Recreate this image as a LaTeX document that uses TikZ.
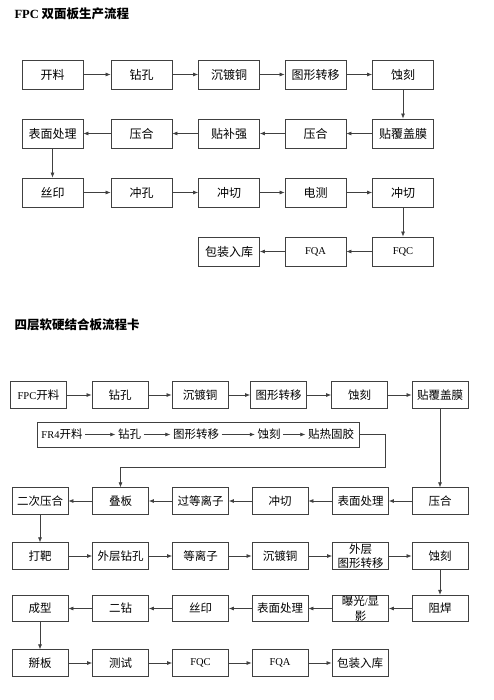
\documentclass[tikz,border=0pt]{standalone}
\usepackage{fontspec}
\usepackage{tikz}
\usetikzlibrary{arrows.meta,positioning,calc}
\newfontfamily\cjk{Noto Sans CJK SC}
\newfontfamily\lat{Liberation Serif}
\newcommand\eng[1]{{\lat\fontsize{10.5}{12}\selectfont #1}}

\begin{document}
\begin{tikzpicture}[x=1pt,y=-1pt,
  flowbox/.style={draw=black!75,line width=0.8pt,minimum width=61pt,minimum height=29pt,
    inner sep=0pt,align=center,font=\fontsize{12}{13}\selectfont\cjk},
  cardbox/.style={flowbox,minimum width=56pt,minimum height=26.5pt,
    font=\fontsize{11.5}{14.5}\selectfont\cjk},
  inlinetext/.style={inner sep=2.5pt,font=\fontsize{11.5}{12.5}\selectfont\cjk},
  flowarrow/.style={draw=black!75,line width=0.7pt,-{Latex[length=5pt,width=4pt]}}]
  \useasboundingbox[fill=white] (0,0) rectangle (494,700); % 画面の大きさ

  % FPC 双面板
  \node[anchor=west,font=\fontsize{12.5}{14}\selectfont\cjk\bfseries] (title1) at (11,14)
    {{\lat\bfseries FPC} 双面板生产流程}; % 表題
  \node[flowbox] (a1) at (52.5,74.5) {开料};
  \node[flowbox] (a2) at (141.5,74.5) {钻孔};
  \node[flowbox] (a3) at (229,74.5) {沉镀铜};
  \node[flowbox] (a4) at (315.5,74.5) {图形转移};
  \node[flowbox] (a5) at (403,74.5) {蚀刻};
  \node[flowbox] (b5) at (403,133.5) {贴覆盖膜};
  \node[flowbox] (b4) at (315.5,133.5) {压合};
  \node[flowbox] (b3) at (229,133.5) {贴补强};
  \node[flowbox] (b2) at (141.5,133.5) {压合};
  \node[flowbox] (b1) at (52.5,133.5) {表面处理};
  \node[flowbox] (c1) at (52.5,192.5) {丝印};
  \node[flowbox] (c2) at (141.5,192.5) {冲孔};
  \node[flowbox] (c3) at (229,192.5) {冲切};
  \node[flowbox] (c4) at (315.5,192.5) {电测};
  \node[flowbox] (c5) at (403,192.5) {冲切};
  \node[flowbox] (d5) at (403,251.5) {\eng{FQC}};
  \node[flowbox] (d4) at (315.5,251.5) {\eng{FQA}};
  \node[flowbox] (d3) at (229,251.5) {包装入库};
  \foreach \i/\j in {a1/a2,a2/a3,a3/a4,a4/a5,a5/b5,b5/b4,b4/b3,b3/b2,b2/b1,b1/c1,
      c1/c2,c2/c3,c3/c4,c4/c5,c5/d5,d5/d4,d4/d3}
    \draw[flowarrow] (\i) -- (\j); % 工程の流れ

  % 四层软硬结合板
  \node[anchor=west,font=\fontsize{12.5}{14}\selectfont\cjk\bfseries] (title2) at (11,325)
    {四层软硬结合板流程卡}; % 表題
  \node[cardbox] (p1) at (38.5,395) {\eng{FPC}开料};
  \node[cardbox] (p2) at (120,395) {钻孔};
  \node[cardbox] (p3) at (200,395) {沉镀铜};
  \node[cardbox] (p4) at (278.5,395) {图形转移};
  \node[cardbox] (p5) at (359.5,395) {蚀刻};
  \node[cardbox] (p6) at (440,395) {贴覆盖膜};
  \node[draw=black!75,line width=0.8pt,minimum width=322pt,minimum height=25pt,inner sep=0pt]
    (fr) at (198,434.5) {}; % FR4 の枠
  \node[inlinetext] (r1) at (62,434.5) {\eng{FR4}开料};
  \node[inlinetext] (r2) at (129.5,434.5) {钻孔};
  \node[inlinetext] (r3) at (196,434.5) {图形转移};
  \node[inlinetext] (r4) at (269,434.5) {蚀刻};
  \node[inlinetext] (r5) at (331,434.5) {贴热固胶};
  \node[cardbox] (q6) at (440,501) {压合};
  \node[cardbox] (q5) at (360.5,501) {表面处理};
  \node[cardbox] (q4) at (280,501) {冲切};
  \node[cardbox] (q3) at (200.5,501) {过等离子};
  \node[cardbox] (q2) at (120.5,501) {叠板};
  \node[cardbox] (q1) at (40,501) {二次压合};
  \node[cardbox] (s1) at (40,556) {打靶};
  \node[cardbox] (s2) at (120.5,556) {外层钻孔};
  \node[cardbox] (s3) at (200.5,556) {等离子};
  \node[cardbox] (s4) at (280,556) {沉镀铜};
  \node[cardbox] (s5) at (360.5,556) {外层\\图形转移};
  \node[cardbox] (s6) at (440,556) {蚀刻};
  \node[cardbox] (t6) at (440,608.5) {阻焊};
  \node[cardbox] (t5) at (360.5,608.5) {曝光\eng{/}显\\影};
  \node[cardbox] (t4) at (280,608.5) {表面处理};
  \node[cardbox] (t3) at (200.5,608.5) {丝印};
  \node[cardbox] (t2) at (120.5,608.5) {二钻};
  \node[cardbox] (t1) at (40,608.5) {成型};
  \node[cardbox] (u1) at (40,663) {掰板};
  \node[cardbox] (u2) at (120.5,663) {测试};
  \node[cardbox] (u3) at (200.5,663) {\eng{FQC}};
  \node[cardbox] (u4) at (280,663) {\eng{FQA}};
  \node[cardbox] (u5) at (360,663) {包装入库};
  \coordinate (k1) at (385,467); % 戻り線の角
  \foreach \i/\j in {p1/p2,p2/p3,p3/p4,p4/p5,p5/p6,p6/q6,q6/q5,q5/q4,q4/q3,q3/q2,q2/q1,
      q1/s1,s1/s2,s2/s3,s3/s4,s4/s5,s5/s6,s6/t6,t6/t5,t5/t4,t4/t3,t3/t2,t2/t1,t1/u1,
      u1/u2,u2/u3,u3/u4,u4/u5,r1/r2,r2/r3,r3/r4,r4/r5}
    \draw[flowarrow] (\i) -- (\j); % 工程の流れ
  \draw[flowarrow] (fr.east) -| (k1) -| (q2.north); % FR4 から叠板へ
\end{tikzpicture}
\end{document}
